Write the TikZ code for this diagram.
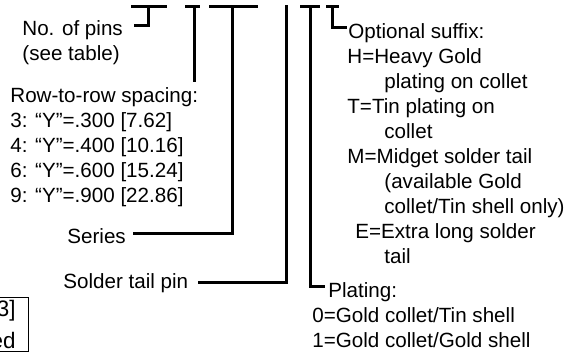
\documentclass[tikz,border=0pt]{standalone}
\usepackage{fontspec}
\setmainfont{Liberation Sans}
\usetikzlibrary{positioning}

\begin{document}
\begin{tikzpicture}[x=0.5pt,y=-0.5pt,
	lbl/.style={font=\fontsize{10.3}{12.5}\selectfont, inner sep=0pt, align=left, anchor=base west},
	lead/.style={line width=1.5pt},
	boxnote/.style={draw, line width=0.5pt, font=\fontsize{11.2}{16}\selectfont, align=right, inner xsep=6.5pt, inner ysep=1.5pt, anchor=north east}]
	\useasboundingbox (0,0) rectangle (574,354);

	% labels (multi-line ones sit on the baseline of their last line)
	\node[lbl] (pins) at (22,35) {No. of pins};
	\node[lbl] (pinsnote) at (22,60) {(see table)};
	\node[lbl] (row) at (10,102) {Row-to-row spacing:};
	\node[lbl] (rowlist) at (10,202) {3: “Y”=.300 [7.62]\\4: “Y”=.400 [10.16]\\6: “Y”=.600 [15.24]\\9: “Y”=.900 [22.86]};
	\node[lbl] (series) at (67,243) {Series};
	\node[lbl] (tail) at (63,288) {Solder tail pin};
	\node[lbl] (suffix) at (348,38) {Optional suffix:};
	\node[lbl] (suffixlist) at (347,263) {H=Heavy Gold\\\hspace*{18.5pt}plating on collet\\T=Tin plating on\\\hspace*{18.5pt}collet\\M=Midget solder tail\\\hspace*{18.5pt}(available Gold\\\hspace*{18.5pt}collet/Tin shell only)\\\hspace*{4pt}E=Extra long solder\\\hspace*{18.5pt}tail};
	\node[lbl] (plating) at (328,297) {Plating:};
	\node[lbl] (platinglist) at (312,347) {0=Gold collet/Tin shell\\1=Gold collet/Gold shell};
	\node[boxnote] (note) at (29,297) {3]\\ed};

	% tops of the brackets
	\coordinate (pinsbar) at (148,6);
	\coordinate (rowbar) at (194,6);
	\coordinate (seriesbar) at (232,6);
	\coordinate (tailtop) at (286,5);
	\coordinate (platbar) at (310,6);
	\coordinate (sufbar) at (332,6);

	\draw[lead] (pinsbar) ++(-17,0) -- ++(36,0)
		(pinsbar) |- ([xshift=5.5pt,yshift=1.9pt]pins.east);
	\draw[lead] (rowbar) ++(-9,0) -- ++(15,0);
	\draw[lead, shorten >=2.5pt] (rowbar) -- (rowbar |- row.north);
	\draw[lead] (seriesbar) ++(-23,0) -- ++(49,0)
		(seriesbar) |- ([xshift=3.5pt,yshift=1pt]series.east);
	\draw[lead] (tailtop) |- ([xshift=4.5pt]tail.east);
	\draw[lead] (platbar) ++(-10,0) -- ++(20,0)
		(platbar) |- ([xshift=-1.5pt,yshift=2.4pt]plating.west);
	\draw[lead] (sufbar) ++(-6,0) -- ++(13,0)
		(sufbar) |- ([xshift=-0.5pt,yshift=2.4pt]suffix.west);
\end{tikzpicture}
\end{document}
